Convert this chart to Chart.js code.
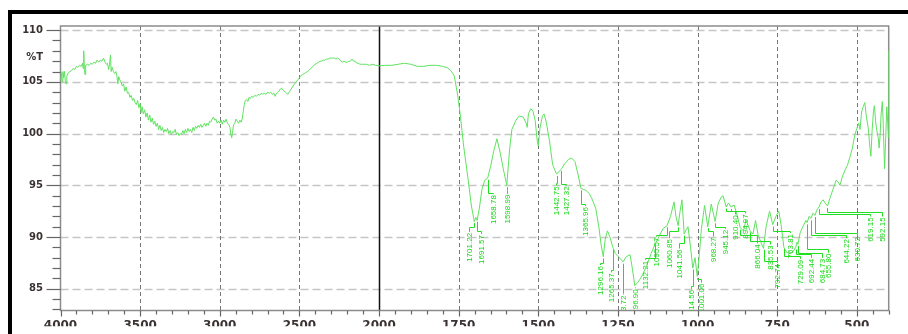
<!DOCTYPE html>
<html>
<head>
<meta charset="utf-8">
<script src="https://cdn.jsdelivr.net/npm/chart.js@4.4.1/dist/chart.umd.min.js"></script>
<style>
  html, body { margin: 0; padding: 0; background: #fff; }
  #frame { position: absolute; left: 8px; top: 10px; width: 896px; height: 320px; border-top: 4px solid #000; border-left: 4px solid #000; }
  #spectrum { position: absolute; left: 0; top: 0; }
</style>
</head>
<body>
<div id="frame"></div>
<canvas id="spectrum" width="908" height="334"></canvas>
<script>
// 4000 - 2000 cm-1
const wnHigh = [4000, 3995, 3990, 3985, 3980, 3975, 3970, 3965, 3960, 3950, 3940, 3930, 3920, 3910, 3900, 3890, 3880, 3870, 3862, 3858, 3854, 3850, 3846, 3842, 3830, 3820, 3810, 3800, 3790, 3780, 3770, 3760, 3750, 3740, 3730, 3720, 3712, 3705, 3698, 3692, 3686, 3682, 3676, 3668, 3660, 3652, 3646, 3640, 3634, 3628, 3620, 3612, 3604, 3596, 3588, 3580, 3572, 3564, 3556, 3548, 3540, 3532, 3524, 3516, 3508, 3500, 3494, 3488, 3480, 3472, 3464, 3456, 3448, 3440, 3432, 3424, 3416, 3408, 3400, 3392, 3384, 3376, 3368, 3360, 3352, 3344, 3336, 3328, 3320, 3312, 3304, 3296, 3288, 3280, 3272, 3264, 3256, 3248, 3240, 3232, 3224, 3216, 3208, 3200, 3192, 3184, 3176, 3168, 3160, 3152, 3144, 3136, 3128, 3120, 3112, 3104, 3096, 3088, 3080, 3072, 3064, 3056, 3048, 3040, 3032, 3024, 3016, 3008, 3000, 2992, 2984, 2976, 2968, 2960, 2952, 2944, 2936, 2930, 2925, 2920, 2914, 2906, 2898, 2890, 2882, 2874, 2866, 2858, 2852, 2846, 2840, 2832, 2824, 2816, 2808, 2800, 2790, 2780, 2770, 2760, 2750, 2740, 2730, 2720, 2710, 2700, 2690, 2680, 2670, 2660, 2652, 2644, 2636, 2628, 2620, 2612, 2604, 2596, 2588, 2580, 2572, 2564, 2556, 2548, 2540, 2530, 2520, 2510, 2500, 2490, 2480, 2470, 2460, 2450, 2440, 2430, 2420, 2410, 2400, 2390, 2380, 2370, 2360, 2350, 2340, 2330, 2320, 2310, 2300, 2290, 2280, 2270, 2260, 2250, 2240, 2230, 2220, 2210, 2200, 2190, 2180, 2170, 2160, 2150, 2140, 2130, 2120, 2110, 2100, 2080, 2060, 2040, 2020, 2000];
const tHigh = [105.2, 105.9, 105.0, 106.0, 105.4, 106.0, 105.1, 104.8, 105.6, 105.9, 106.0, 106.1, 106.3, 106.2, 106.5, 106.4, 106.6, 106.5, 106.8, 106.3, 108.0, 106.2, 105.7, 106.6, 106.7, 106.6, 106.8, 106.7, 106.9, 106.8, 107.1, 106.9, 107.1, 107.0, 107.3, 106.9, 106.7, 106.8, 106.2, 106.7, 107.6, 106.0, 106.4, 106.0, 105.8, 106.0, 105.6, 104.8, 105.5, 105.2, 105.0, 104.6, 104.8, 104.1, 104.5, 103.9, 104.0, 103.5, 103.7, 103.2, 103.4, 103.0, 102.8, 103.2, 102.5, 102.9, 102.0, 102.6, 101.9, 102.3, 101.6, 102.0, 101.3, 101.8, 101.1, 101.5, 100.9, 101.2, 100.7, 101.0, 100.4, 100.8, 100.3, 100.6, 100.1, 100.4, 100.2, 100.5, 100.0, 100.3, 99.9, 100.2, 100.1, 100.4, 99.9, 100.1, 99.8, 100.0, 99.9, 100.3, 100.0, 100.4, 100.1, 100.5, 100.2, 100.4, 100.1, 100.6, 100.3, 100.7, 100.5, 100.8, 100.6, 100.9, 100.6, 100.8, 101.0, 100.7, 101.0, 100.8, 101.2, 101.1, 101.4, 101.6, 101.3, 101.4, 101.0, 101.2, 101.0, 101.3, 100.9, 101.3, 101.1, 101.4, 101.0, 100.9, 100.6, 99.9, 99.6, 100.1, 100.8, 101.0, 101.4, 101.2, 101.0, 101.3, 101.1, 101.5, 102.2, 102.8, 103.2, 103.3, 103.1, 103.5, 103.4, 103.6, 103.5, 103.7, 103.6, 103.8, 103.7, 103.9, 103.8, 103.9, 103.8, 104.0, 103.9, 104.0, 103.8, 103.9, 103.6, 103.9, 104.0, 104.1, 104.3, 104.4, 104.2, 104.1, 104.0, 103.9, 103.8, 104.0, 104.2, 104.4, 104.6, 104.8, 105.0, 105.2, 105.4, 105.6, 105.7, 105.8, 105.9, 106.0, 106.1, 106.3, 106.4, 106.6, 106.7, 106.8, 106.9, 107.0, 107.0, 107.1, 107.1, 107.2, 107.2, 107.3, 107.3, 107.3, 107.3, 107.2, 107.3, 107.2, 107.0, 106.9, 107.0, 106.9, 106.9, 107.0, 107.0, 107.2, 107.0, 107.0, 106.8, 106.8, 106.7, 106.7, 106.7, 106.7, 106.6, 106.7, 106.6, 106.55];

// 2000 - 1000 cm-1
const wnMid = [1980, 1960, 1940, 1920, 1900, 1880, 1860, 1840, 1820, 1800, 1785, 1775, 1764, 1753, 1745, 1734, 1720, 1710, 1701, 1696, 1692, 1685, 1677, 1668, 1659, 1650, 1640, 1630, 1620, 1610, 1599, 1590, 1583, 1570, 1560, 1547, 1538, 1535, 1531, 1524, 1517, 1510, 1503, 1500, 1495, 1487, 1482, 1475, 1465, 1455, 1443, 1435, 1427, 1417, 1405, 1396, 1385, 1375, 1366, 1358, 1350, 1340, 1333, 1320, 1310, 1303, 1296, 1290, 1283, 1275, 1266, 1258, 1245, 1234, 1224, 1212, 1205, 1197, 1188, 1177, 1160, 1146, 1132, 1120, 1109, 1096, 1085, 1074, 1068, 1061, 1055, 1049, 1042, 1036, 1030, 1022, 1015, 1008];
const tMid = [106.6, 106.6, 106.7, 106.8, 106.7, 106.5, 106.5, 106.6, 106.6, 106.5, 106.35, 106.1, 105.6, 103.7, 101.8, 98.7, 95.5, 93.0, 91.5, 91.9, 91.6, 92.8, 94.6, 95.5, 95.7, 96.8, 98.3, 99.5, 98.2, 96.6, 95.0, 98.5, 100.4, 101.3, 101.7, 101.6, 101.0, 100.6, 101.9, 102.4, 102.2, 101.3, 99.2, 98.8, 100.5, 101.7, 101.9, 101.1, 99.3, 97.0, 96.1, 96.3, 96.6, 97.1, 97.5, 97.65, 97.3, 96.0, 94.7, 94.6, 94.5, 94.2, 93.8, 92.8, 91.0, 89.3, 88.1, 89.8, 90.6, 90.0, 89.0, 88.4, 88.0, 87.6, 88.1, 88.3, 87.0, 85.3, 85.6, 86.1, 87.2, 88.4, 89.4, 90.1, 90.8, 91.1, 92.0, 93.4, 92.0, 91.1, 92.5, 93.6, 90.3, 90.7, 91.0, 89.0, 87.0, 88.0];

// 1000 - 400 cm-1
const wnLow = [1001, 994, 988, 978, 968, 957, 945, 935, 925, 920, 910, 903, 895, 885, 875, 866, 856, 848, 842, 835, 826, 818, 810, 800, 793, 785, 774, 764, 754, 745, 737, 729, 720, 710, 700, 692, 688, 685, 678, 668, 660, 656, 650, 644, 638, 631, 626, 619, 612, 606, 600, 592, 584, 575, 565, 558, 553, 546, 538, 530, 522, 514, 506, 500, 494, 490, 485, 480, 475, 470, 464, 460, 456, 452, 448, 445, 441, 438, 433, 430, 427, 424, 420, 417, 413, 410, 406, 403, 401, 400];
const tLow = [86.2, 88.5, 90.8, 93.05, 91.0, 93.2, 91.5, 93.3, 93.9, 94.0, 92.9, 93.3, 92.9, 93.1, 92.0, 90.9, 90.6, 91.6, 91.2, 90.6, 90.3, 91.6, 90.2, 89.4, 88.9, 91.0, 92.5, 91.2, 92.0, 92.5, 91.0, 89.0, 88.5, 88.4, 88.6, 89.0, 89.5, 89.3, 90.4, 91.1, 91.6, 91.4, 92.0, 91.8, 92.3, 92.1, 92.6, 92.9, 93.4, 93.6, 93.3, 93.0, 93.8, 94.6, 95.5, 95.3, 95.0, 95.8, 96.4, 96.9, 97.7, 98.6, 99.9, 100.5, 101.0, 100.4, 102.1, 102.6, 103.0, 101.6, 100.5, 99.0, 97.8, 100.3, 102.1, 102.7, 101.2, 100.4, 99.6, 98.6, 99.8, 101.8, 103.1, 100.8, 96.6, 99.0, 102.6, 101.0, 99.6, 108.0];

// axis ticks
const xMajorTicks = [4000, 3500, 3000, 2500, 2000, 1750, 1500, 1250, 1000, 750, 500];
const yMajorTicks = [85, 90, 95, 100, 105, 110];

// peak picks: value, label column (cm-1), leader knee (%T), label top (%T)
const peakValues = [1701.22, 1691.57, 1658.78, 1598.99, 1442.75, 1427.32, 1365.96, 1296.16, 1265.37, 1233.72, 1196.90, 1132.21, 1095.57, 1060.85, 1041.56, 1014.56, 1001.06, 968.27, 945.12, 910.40, 894.97, 866.04, 835.53, 792.74, 763.81, 729.09, 692.44, 684.73, 655.80, 644.22, 630.72, 619.15, 592.15];
const peakLabelWn = [1717, 1680, 1643, 1599, 1444, 1413, 1353, 1305, 1271, 1235, 1198, 1164, 1130, 1090, 1057, 1022, 988, 952, 915, 881, 852, 814, 772, 752, 710, 678, 644, 610, 590, 533, 500, 458, 422];
const peakKneeT = [91.0, 90.55, 94.3, 94.5, 95.25, 95.1, 93.15, 87.45, 86.8, 84.6, 85.15, 88.0, 90.2, 90.55, 89.45, 85.3, 85.9, 90.55, 90.95, 92.5, 92.5, 90.2, 89.6, 87.7, 90.6, 88.2, 88.35, 88.5, 88.8, 90.2, 90.4, 92.25, 92.4];
const peakTextT = [90.4, 90.2, 94.05, 94.1, 94.9, 94.9, 92.9, 87.2, 86.5, 84.35, 84.95, 87.7, 89.95, 89.8, 88.8, 84.9, 85.5, 89.95, 90.7, 92.1, 92.2, 89.3, 89.2, 87.4, 90.3, 87.8, 87.9, 87.9, 88.4, 89.8, 90.0, 91.9, 91.9];

const wavenumbers = wnHigh.concat(wnMid, wnLow);
const transmittance = tHigh.concat(tMid, tLow);

// 4000-2000 at half the scale of 2000-400
const axisPos = wn => wn >= 2000 ? 1600 + (wn - 2000) / 2 : wn - 400;

class SplitScale extends Chart.LinearScale {
    getPixelForValue(value) {
        const span = axisPos(this.max) - axisPos(this.min);
        return this.getPixelForDecimal((axisPos(this.max) - axisPos(value)) / span);
    }
    getValueForPixel(pixel) {
        const span = axisPos(this.max) - axisPos(this.min);
        const a = axisPos(this.max) - this.getDecimalForPixel(pixel) * span;
        return a >= 1600 ? 2000 + (a - 1600) * 2 : a + 400;
    }
}
SplitScale.id = "split";
Chart.register(SplitScale);

function curveAt(wn) {
    for (let i = 0; i < wavenumbers.length - 1; i++) {
        const a = wavenumbers[i], b = wavenumbers[i + 1];
        if (wn <= a && wn >= b) {
            const f = (a - wn) / (a - b);
            return transmittance[i] + f * (transmittance[i + 1] - transmittance[i]);
        }
    }
    return transmittance[transmittance.length - 1];
}

const gridPlugin = {
    id: "irGrid",
    beforeDatasetsDraw(chart) {
        const ctx = chart.ctx;
        const xs = chart.scales.x, ys = chart.scales.y;
        const { left, right, top, bottom } = chart.chartArea;
        ctx.save();

        // horizontal grid
        ctx.strokeStyle = "#c6c6c6";
        ctx.lineWidth = 1.5;
        ctx.setLineDash([8, 4]);
        yMajorTicks.forEach(v => {
            const y = Math.round(ys.getPixelForValue(v)) + 0.5;
            ctx.beginPath(); ctx.moveTo(left, y); ctx.lineTo(right, y); ctx.stroke();
        });

        // vertical grid
        ctx.strokeStyle = "#777";
        ctx.lineWidth = 1;
        ctx.setLineDash([4, 3]);
        xMajorTicks.forEach(v => {
            if (v === 2000 || v === 4000) return;
            const x = Math.round(xs.getPixelForValue(v)) + 0.5;
            ctx.beginPath(); ctx.moveTo(x, top); ctx.lineTo(x, bottom); ctx.stroke();
        });
        ctx.setLineDash([]);
        ctx.strokeStyle = "#111";
        ctx.lineWidth = 1.5;
        const x2k = Math.round(xs.getPixelForValue(2000)) + 0.5;
        ctx.beginPath(); ctx.moveTo(x2k, top); ctx.lineTo(x2k, bottom); ctx.stroke();

        // plot frame
        ctx.strokeStyle = "#8c8c8c";
        ctx.lineWidth = 1.5;
        ctx.strokeRect(left, top, right - left, bottom - top);

        // tick marks
        ctx.strokeStyle = "#666";
        ctx.lineWidth = 1.2;
        for (let v = 83; v <= 110; v++) {
            const y = Math.round(ys.getPixelForValue(v)) + 0.5;
            const len = v % 5 === 0 ? 14 : 8;
            ctx.beginPath(); ctx.moveTo(left - len, y); ctx.lineTo(left, y); ctx.stroke();
        }
        for (let v = 4000; v >= 400; v -= (v > 2000 ? 100 : 50)) {
            const x = Math.round(xs.getPixelForValue(v)) + 0.5;
            const len = xMajorTicks.includes(v) ? 6 : 4;
            ctx.beginPath(); ctx.moveTo(x, bottom); ctx.lineTo(x, bottom + len); ctx.stroke();
        }

        // y unit
        ctx.fillStyle = "#3b3333";
        ctx.font = "bold 10px 'DejaVu Sans'";
        ctx.textAlign = "right";
        ctx.textBaseline = "middle";
        ctx.fillText("%T", 43, 57);
        ctx.restore();
    },
    afterDatasetsDraw(chart) {
        const ctx = chart.ctx;
        const xs = chart.scales.x, ys = chart.scales.y;
        const { left, right, top, bottom } = chart.chartArea;
        ctx.save();
        ctx.beginPath();
        ctx.rect(left, top, right - left, bottom - top);
        ctx.clip();
        ctx.strokeStyle = "#1ee01e";
        ctx.fillStyle = "#14d814";
        ctx.lineWidth = 1;
        ctx.font = "8px 'Liberation Sans'";
        peakValues.forEach((p, i) => {
            const x0 = Math.round(xs.getPixelForValue(p)) + 0.5;
            const y0 = ys.getPixelForValue(curveAt(p)) + 2;
            const yk = Math.round(ys.getPixelForValue(peakKneeT[i])) + 0.5;
            const xc = Math.round(xs.getPixelForValue(peakLabelWn[i])) + 0.5;
            const yt = ys.getPixelForValue(peakTextT[i]);
            ctx.beginPath();
            ctx.moveTo(x0, y0);
            ctx.lineTo(x0, yk);
            ctx.lineTo(xc, yk);
            ctx.lineTo(xc, yt - 1);
            ctx.stroke();
            ctx.save();
            ctx.translate(xc, yt);
            ctx.rotate(-Math.PI / 2);
            ctx.textAlign = "right";
            ctx.textBaseline = "middle";
            ctx.fillText(p.toFixed(2), 0, 0);
            ctx.restore();
        });
        ctx.restore();
    }
};

const spectrumCtx = document.getElementById("spectrum").getContext("2d");

const spectrumChart = new Chart(spectrumCtx, {
    type: "line",
    data: {
        datasets: [{
            label: "%T",
            data: wavenumbers.map((w, i) => ({ x: w, y: transmittance[i] })),
            borderColor: "#5fe25f",
            borderWidth: 1,
            pointRadius: 0,
            tension: 0,
            fill: false
        }]
    },
    options: {
        responsive: false,
        animation: false,
        events: [],
        layout: { padding: { left: 0, right: 19.3, top: 26, bottom: 0 } },
        plugins: {
            legend: { display: false },
            tooltip: { enabled: false }
        },
        scales: {
            x: {
                type: "split",
                min: 400,
                max: 4000,
                afterBuildTicks: s => { s.ticks = xMajorTicks.map(v => ({ value: v })); },
                afterFit: s => { s.height = 15.7; },
                grid: { display: false, drawTicks: false },
                border: { display: false },
                ticks: {
                    autoSkip: false,
                    maxRotation: 0,
                    padding: 8,
                    color: "#3b3333",
                    font: { family: "'DejaVu Sans'", size: 12, weight: "bold" },
                    callback: v => String(v)
                }
            },
            y: {
                min: 82.9,
                max: 110.4,
                afterBuildTicks: s => { s.ticks = yMajorTicks.map(v => ({ value: v })); },
                afterFit: s => { s.width = 60.5; },
                grid: { display: false, drawTicks: false },
                border: { display: false },
                ticks: {
                    padding: 17.5,
                    color: "#3b3333",
                    font: { family: "'DejaVu Sans'", size: 10, weight: "bold" }
                }
            }
        }
    },
    plugins: [gridPlugin]
});
</script>
</body>
</html>
